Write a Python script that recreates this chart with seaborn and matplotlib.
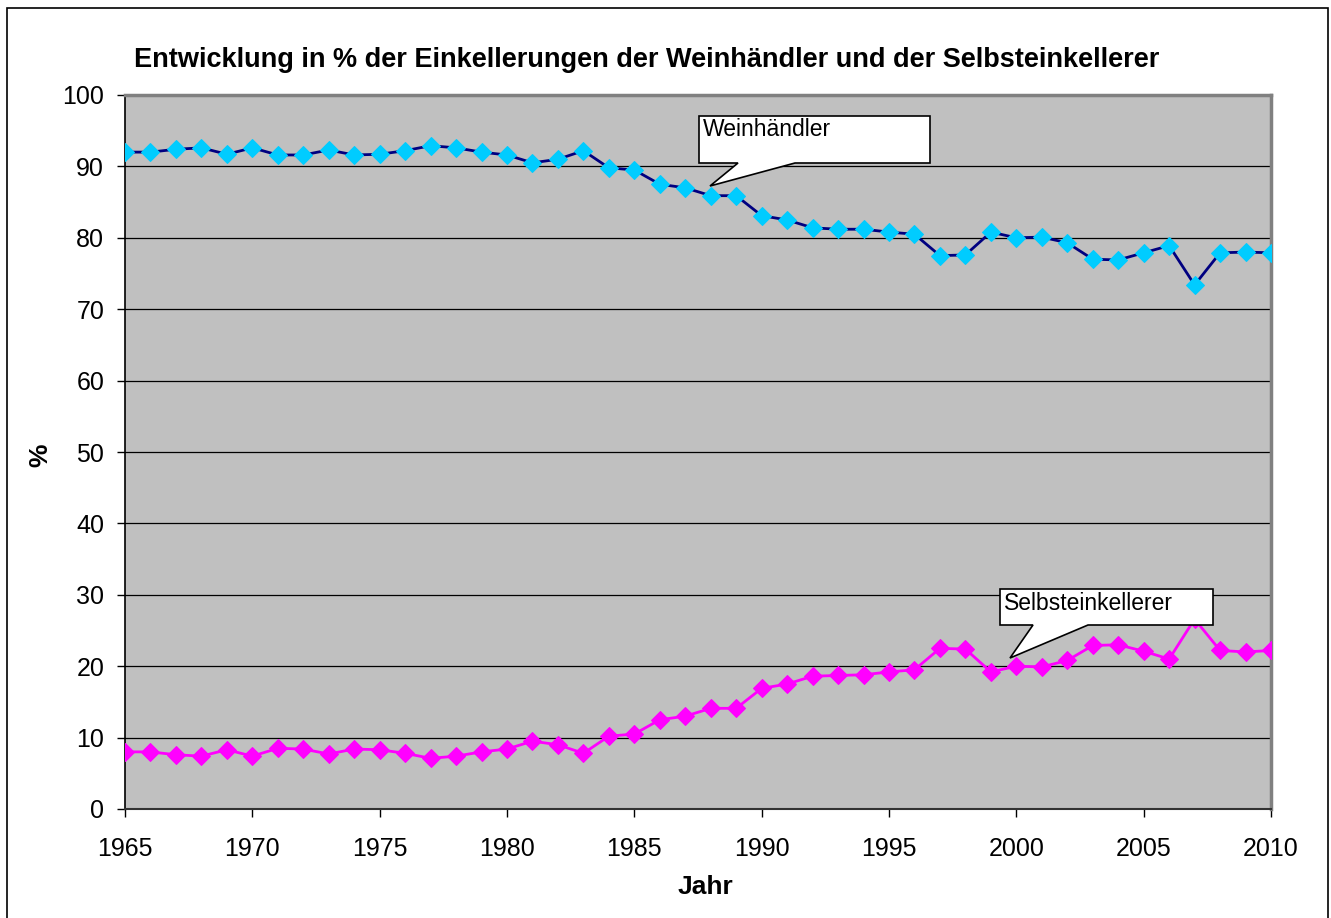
import numpy as np
import matplotlib.pyplot as plt
import pandas as pd
import seaborn as sns
from matplotlib.patches import Polygon, Rectangle

years = list(range(1965, 2011))

weinhaendler = [92.0, 92.0, 92.4, 92.6, 91.7, 92.6, 91.6, 91.6, 92.3, 91.6,
                91.7, 92.2, 92.9, 92.6, 92.0, 91.6, 90.5, 91.0, 92.2, 89.8,
                89.5, 87.5, 87.0, 85.9, 85.9, 83.1, 82.5, 81.4, 81.2, 81.2,
                80.8, 80.5, 77.5, 77.6, 80.8, 80.0, 80.1, 79.3, 77.0, 76.9,
                77.9, 78.9, 73.4, 77.9, 78.0, 77.9]

selbst = [8.0, 8.0, 7.6, 7.4, 8.3, 7.4, 8.5, 8.4, 7.7, 8.4,
          8.3, 7.8, 7.1, 7.4, 8.0, 8.4, 9.5, 9.0, 7.8, 10.2,
          10.5, 12.5, 13.0, 14.1, 14.1, 16.9, 17.5, 18.6, 18.7, 18.8,
          19.2, 19.5, 22.5, 22.4, 19.2, 20.0, 19.9, 20.8, 22.9, 23.0,
          22.1, 21.0, 26.6, 22.2, 22.0, 22.2]

df = pd.DataFrame({"Jahr": years, "Weinhändler": weinhaendler, "Selbsteinkellerer": selbst})

sns.set_style("white")
plt.rcParams['font.family'] = ['Liberation Sans', 'DejaVu Sans']

W, H = 1331, 918
fig = plt.figure(figsize=(W / 100, H / 100), dpi=100)
L, R, T, B = 125, 1271, 95, 809
ax = fig.add_axes([L / W, 1 - B / H, (R - L) / W, (B - T) / H])
ax.set_facecolor("#C0C0C0")

# outer frame of the chart
fig.patches.append(Rectangle((7 / W, -0.05), 1321 / W, 1 - 8 / H + 0.05,
                             transform=fig.transFigure, fill=False,
                             edgecolor="black", linewidth=1.2))

sns.lineplot(x="Jahr", y="Weinhändler", data=df, ax=ax, color="#000080",
             linewidth=2.0, marker="D", markersize=9.5,
             markerfacecolor="#00CCFF", markeredgecolor="#00CCFF", zorder=3)
sns.lineplot(x="Jahr", y="Selbsteinkellerer", data=df, ax=ax, color="#FF00FF",
             linewidth=2.0, marker="D", markersize=9.5,
             markerfacecolor="#FF00FF", markeredgecolor="#FF00FF", zorder=3)

ax.set_xlim(1965, 2010)
ax.set_ylim(0, 100)
ax.set_xticks(range(1965, 2011, 5))
ax.set_yticks(range(0, 101, 10))
ax.tick_params(axis="both", direction="out", length=6, width=1, color="black",
               labelsize=18, labelcolor="black", left=True, bottom=True)
ax.tick_params(axis="x", pad=14)
ax.tick_params(axis="y", pad=9)
ax.yaxis.grid(True, color="black", linewidth=0.9)
ax.set_axisbelow(True)
for s in ["top", "right"]:
    ax.spines[s].set_color("#808080")
    ax.spines[s].set_linewidth(2.5)
ax.spines["left"].set_color("black")
ax.spines["left"].set_linewidth(1.2)
ax.spines["bottom"].set_color("#333333")
ax.spines["bottom"].set_linewidth(1.5)

ax.set_xlabel("")
ax.set_ylabel("")
fig.text(705 / W, 1 - 887 / H, "Jahr", ha="center", va="center",
         fontsize=19, fontweight="bold", color="black")
fig.text(40 / W, 1 - 455 / H, "%", ha="center", va="center", rotation=90,
         fontsize=19, fontweight="bold", color="black")
fig.text(647 / W, 1 - 60 / H,
         "Entwicklung in % der Einkellerungen der Weinhändler und der Selbsteinkellerer",
         ha="center", va="center", fontsize=19.5, fontweight="bold", color="black")


def px(x, y):
    return ((x - L) / (R - L), (B - y) / (B - T))


def callout(box, tip, base, text):
    x0, y0, x1, y1 = box
    pts = [(x0, y0), (x1, y0), (x1, y1), (base[1], y1), tip, (base[0], y1), (x0, y1)]
    ax.add_patch(Polygon([px(*p) for p in pts], closed=True, transform=ax.transAxes,
                         facecolor="white", edgecolor="black", linewidth=1.2,
                         zorder=5, clip_on=False))
    tx, ty = px(x0 + 4, y0 + 14)
    ax.text(tx, ty, text, transform=ax.transAxes, ha="left", va="center",
            fontsize=16.5, color="black", zorder=6)


callout((699, 116, 930, 163), (710, 186), (738, 795), "Weinhändler")
callout((1000, 589, 1213, 625), (1010, 658), (1033, 1088), "Selbsteinkellerer")

plt.savefig("out.png", dpi=100)
